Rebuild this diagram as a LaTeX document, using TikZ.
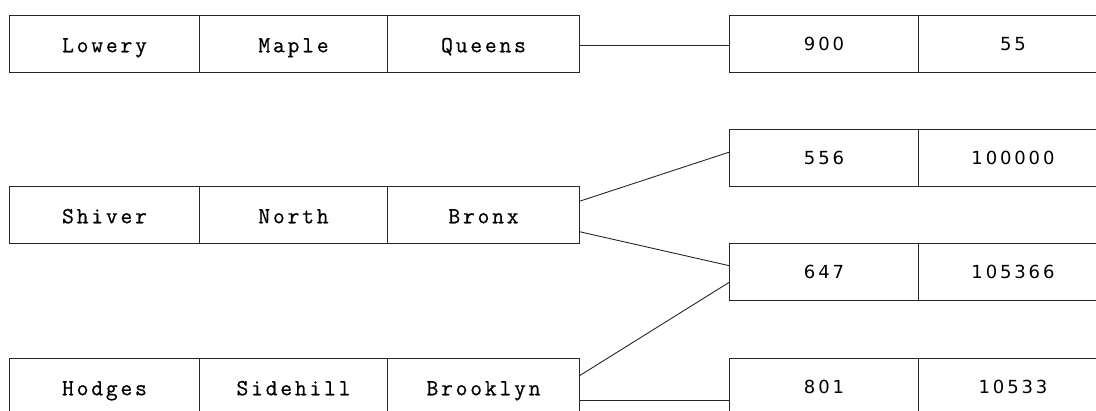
\documentclass[tikz,border=0pt]{standalone}
\usepackage{fontspec}
\usetikzlibrary{calc}
\newfontfamily\cellfont{Latin Modern Mono}[LetterSpace=12,FakeBold=0.6]
\newfontfamily\numfont{DejaVu Sans}[LetterSpace=16]
\begin{document}
\begin{tikzpicture}[x=1pt,y=-1pt,
  cell/.style={draw=black!85, line width=1pt, rectangle, inner sep=0pt,
    anchor=north west, minimum height=57pt},
  txt/.style={cell, text height=16.5pt, text depth=0pt,
    font=\cellfont\fontsize{23}{23}\selectfont},
  num/.style={cell, text height=13pt, text depth=0pt,
    font=\numfont\fontsize{18}{18}\selectfont},
  link/.style={draw=black!85, line width=0.9pt}]
\useasboundingbox (0,0) rectangle (1096,410);
\clip (0,0) rectangle (1096,410);

% record rows on the left
\node[txt, minimum width=190pt] (l1) at (9,15)  {Lowery};
\node[txt, minimum width=188pt] (m1) at (199,15) {Maple};
\node[txt, minimum width=192pt] (c1) at (387,15) {Queens};

\node[txt, minimum width=190pt] (l2) at (9,186)  {Shiver};
\node[txt, minimum width=188pt] (m2) at (199,186) {North};
\node[txt, minimum width=192pt] (c2) at (387,186) {Bronx};

\node[txt, minimum width=190pt] (l3) at (9,358)  {Hodges};
\node[txt, minimum width=188pt] (m3) at (199,358) {Sidehill};
\node[txt, minimum width=192pt] (c3) at (387,358) {Brooklyn};

% value pairs on the right
\node[num, minimum width=189pt] (a1) at (729,15)  {900};
\node[num, minimum width=189pt] (b1) at (918,15)  {55};
\node[num, minimum width=189pt] (a2) at (729,129) {556};
\node[num, minimum width=189pt] (b2) at (918,129) {100000};
\node[num, minimum width=189pt] (a3) at (729,243) {647};
\node[num, minimum width=189pt] (b3) at (918,243) {105366};
\node[num, minimum width=189pt] (a4) at (729,358) {801};
\node[num, minimum width=189pt] (b4) at (918,358) {10533};

% links between the city cells and the value pairs
\draw[link] ($(c1.north east)!0.53!(c1.south east)$) -- ($(a1.north west)!0.53!(a1.south west)$);
\draw[link] ($(c2.north east)!0.26!(c2.south east)$) -- ($(a2.north west)!0.40!(a2.south west)$);
\draw[link] ($(c2.north east)!0.79!(c2.south east)$) -- ($(a3.north west)!0.39!(a3.south west)$);
\draw[link] ($(c3.north east)!0.30!(c3.south east)$) -- ($(a3.north west)!0.68!(a3.south west)$);
\draw[link] ($(c3.north east)!0.74!(c3.south east)$) -- ($(a4.north west)!0.74!(a4.south west)$);
\end{tikzpicture}
\end{document}
